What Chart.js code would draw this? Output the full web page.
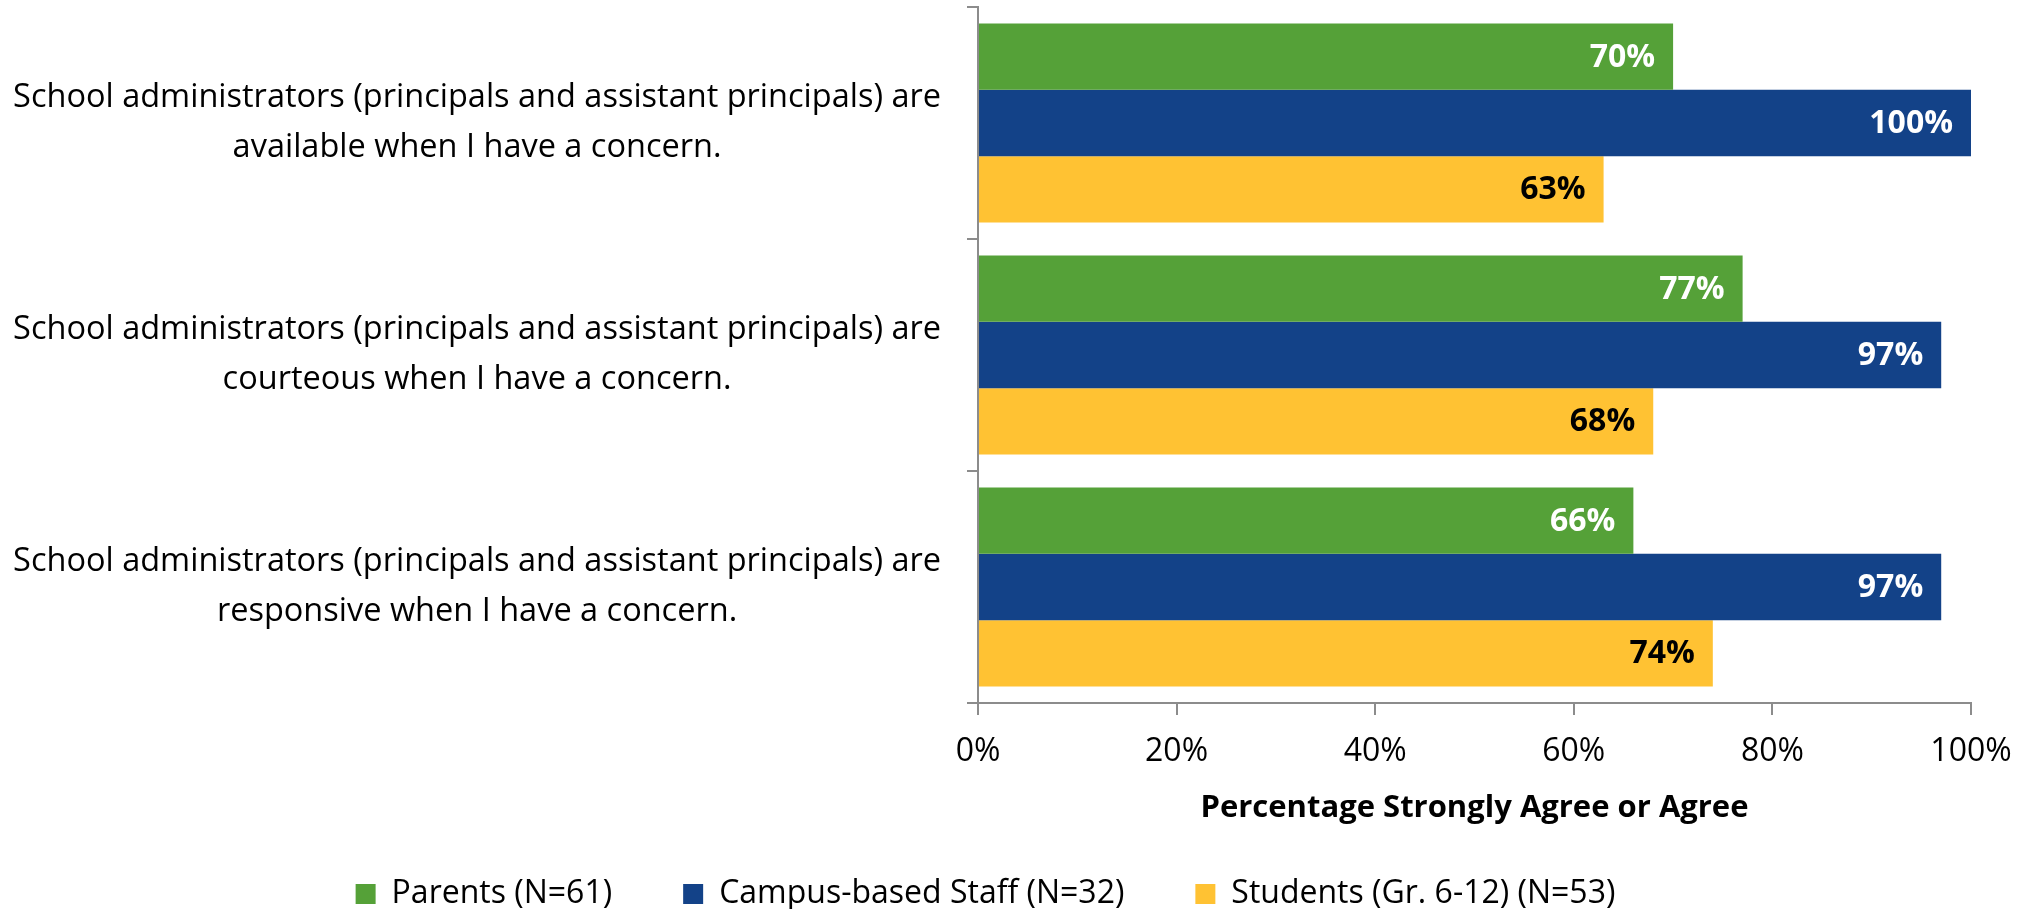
<!DOCTYPE html>
<html>
<head>
<meta charset="utf-8">
<script src="https://cdn.jsdelivr.net/npm/chart.js@4.4.1/dist/chart.umd.min.js"></script>
<style>
  html, body { margin: 0; padding: 0; background: #ffffff; }
  #chartBox { width: 2030px; height: 909px; }
</style>
</head>
<body>
<div id="chartBox"><canvas id="myChart"></canvas></div>
<script>
const categories = [
    ["School administrators (principals and assistant principals) are", "available when I have a concern."],
    ["School administrators (principals and assistant principals) are", "courteous when I have a concern."],
    ["School administrators (principals and assistant principals) are", "responsive when I have a concern."]
];
const seriesNames = ["Parents (N=61)", "Campus-based Staff (N=32)", "Students (Gr. 6-12) (N=53)"];
const parents = [70, 77, 66];
const staff = [100, 97, 97];
const students = [63, 68, 74];
const xTicks = [0, 20, 40, 60, 80, 100];

const FONT = "'Open Sans'";
const FS = 32;
const axisGray = "#8c8c8c";
const legendPad = 71;

// writes the value at the inner end of every bar
const barLabels = {
    id: "barLabels",
    afterDatasetsDraw(chart) {
        const ctx = chart.ctx;
        ctx.save();
        ctx.font = "bold " + FS + "px " + FONT;
        ctx.textAlign = "right";
        ctx.textBaseline = "middle";
        chart.data.datasets.forEach((ds, i) => {
            const meta = chart.getDatasetMeta(i);
            meta.data.forEach((bar, n) => {
                ctx.fillStyle = ds.labelColor;
                ctx.fillText(ds.data[n] + "%", bar.x - 18, bar.y + 1);
            });
        });
        ctx.restore();
    }
};

// legend padding is big to spread the items, so pull the row down to its place
const placeLegend = {
    id: "placeLegend",
    afterLayout(chart) {
        const lg = chart.legend;
        const h = lg.height;
        lg.top = 894 - legendPad - FS / 2;
        lg.bottom = lg.top + h;
        const x = chart.scales.x;
        x.bottom = 879;
        x.height = x.bottom - x.top;
    }
};

function drawChart() {
    const data = {
        labels: categories,
        datasets: [{
            label: seriesNames[0],
            data: parents,
            backgroundColor: "#55a138",
            labelColor: "#ffffff"
        }, {
            label: seriesNames[1],
            data: staff,
            backgroundColor: "#134288",
            labelColor: "#ffffff"
        }, {
            label: seriesNames[2],
            data: students,
            backgroundColor: "#ffc233",
            labelColor: "#000000"
        }]
    };

    const config = {
        type: "bar",
        data: data,
        plugins: [barLabels, placeLegend],
        options: {
            indexAxis: "y",
            responsive: false,
            animation: false,
            devicePixelRatio: 1,
            categoryPercentage: 0.857,
            barPercentage: 1.0,
            layout: {
                padding: { top: 7, right: 59, left: 0, bottom: 0 }
            },
            plugins: {
                tooltip: { enabled: false },
                legend: {
                    position: "bottom",
                    labels: {
                        font: { family: FONT, size: FS },
                        color: "#000000",
                        boxWidth: 20,
                        boxHeight: 20,
                        padding: legendPad
                    }
                }
            },
            scales: {
                y: {
                    afterFit: (scale) => {
                        scale.width = 978;
                        scale.paddingTop = 0;
                        scale.paddingBottom = 0;
                    },
                    grid: {
                        drawOnChartArea: false,
                        drawTicks: true,
                        tickLength: 11,
                        color: axisGray,
                        lineWidth: 2
                    },
                    border: { display: true, color: axisGray, width: 2 },
                    ticks: {
                        crossAlign: "center",
                        padding: 26,
                        color: "#000000",
                        font: { family: FONT, size: 32.5, lineHeight: 1.54 }
                    }
                },
                x: {
                    min: 0,
                    max: 100,
                    afterFit: (scale) => {
                        scale.height = Math.max(909 - 703 - scale.chart.legend.height, 0);
                    },
                    afterBuildTicks: (scale) => {
                        scale.ticks = xTicks.map(v => ({ value: v }));
                    },
                    grid: {
                        drawOnChartArea: false,
                        drawTicks: true,
                        tickLength: 12,
                        color: axisGray,
                        lineWidth: 2
                    },
                    border: { display: true, color: axisGray, width: 2 },
                    ticks: {
                        padding: 18,
                        color: "#000000",
                        font: { family: FONT, size: FS },
                        callback: (v) => v + "%"
                    },
                    title: {
                        display: true,
                        text: "Percentage Strongly Agree or Agree",
                        color: "#000000",
                        font: { family: FONT, size: 31, weight: "bold" },
                        padding: { top: 0, bottom: 52 }
                    }
                }
            }
        }
    };

    const canvas = document.getElementById("myChart");
    canvas.width = 2030;
    canvas.height = 909;
    new Chart(canvas, config);
}

drawChart();
</script>
</body>
</html>
